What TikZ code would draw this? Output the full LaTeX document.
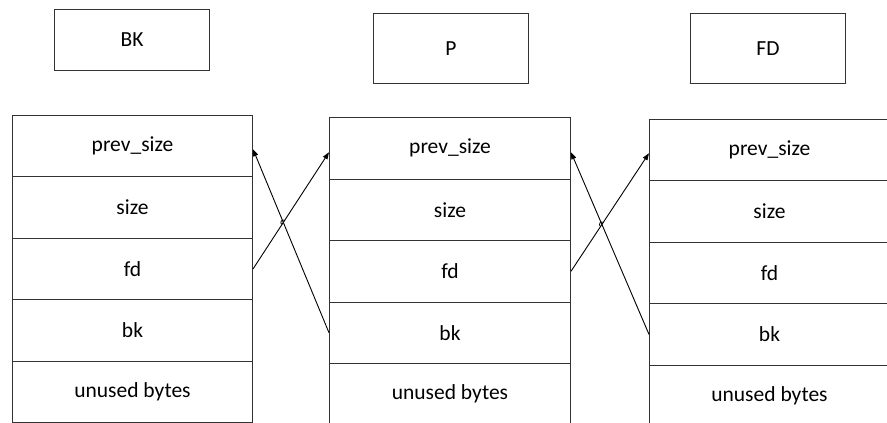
\documentclass[tikz,border=0pt]{standalone}
\usepackage{fontspec}
\setmainfont{Carlito}
\usetikzlibrary{arrows.meta,intersections}
\begin{document}
\begin{tikzpicture}[x=1pt,y=-1pt,
  cell/.style={draw=black!80, line width=1pt, minimum width=240pt, minimum height=61.4pt,
    inner sep=0pt, anchor=north west, font=\fontsize{21.5}{25}\selectfont},
  headbox/.style={draw=black!80, line width=1pt, minimum width=155pt,
    inner sep=0pt, anchor=north west, font=\fontsize{21.5}{25}\selectfont},
  link/.style={-{Triangle[length=7pt,width=5pt]}, line width=0.9pt, black},
  hop/.style={line width=0.8pt, black}]
\useasboundingbox (0,0) rectangle (887,423);
\clip (0,0) rectangle (887,423);
% header boxes
\node[headbox, minimum height=61pt] (bkh) at (54,9) {BK};
\node[headbox, minimum height=70pt] (ph) at (373,13) {P};
\node[headbox, minimum height=70pt] (fdh) at (690,13) {FD};
% left chunk
\node[cell] (L1) at (12,115) {prev\_size};
\node[cell] (L2) at (12,176.4) {size};
\node[cell] (L3) at (12,237.8) {fd};
\node[cell] (L4) at (12,299.2) {bk};
\node[cell] (L5) at (12,360.6) {unused bytes};
% middle chunk
\node[cell, minimum width=241pt, minimum height=61.5pt] (M1) at (329,117) {prev\_size};
\node[cell, minimum width=241pt, minimum height=61.5pt] (M2) at (329,178.5) {size};
\node[cell, minimum width=241pt, minimum height=61.5pt] (M3) at (329,240) {fd};
\node[cell, minimum width=241pt, minimum height=61.5pt] (M4) at (329,301.5) {bk};
\node[cell, minimum width=241pt, minimum height=61.5pt] (M5) at (329,363) {unused bytes};
% right chunk
\node[cell] (R1) at (649,119) {prev\_size};
\node[cell] (R2) at (649,180.4) {size};
\node[cell] (R3) at (649,241.8) {fd};
\node[cell] (R4) at (649,303.2) {bk};
\node[cell] (R5) at (649,364.6) {unused bytes};
% links
\draw[link, name path=a] (L3.east) -- ([yshift=-4pt]M1.west);
\draw[link, name path=b] (M4.west) -- ([yshift=-3pt]L1.east);
\draw[link, name path=c] (M3.east) -- ([yshift=-3pt]R1.west);
\draw[link, name path=d] (R4.west) -- ([yshift=-4pt]M1.east);
% line hops at the crossings
\path[name intersections={of=a and b, by=x1}];
\path[name intersections={of=c and d, by=x2}];
\draw[hop] ([shift={(123.6:2.5)}]x1) arc[start angle=123.6, end angle=303.6, radius=2.5];
\draw[hop] ([shift={(123.6:2.5)}]x2) arc[start angle=123.6, end angle=303.6, radius=2.5];
\end{tikzpicture}
\end{document}
